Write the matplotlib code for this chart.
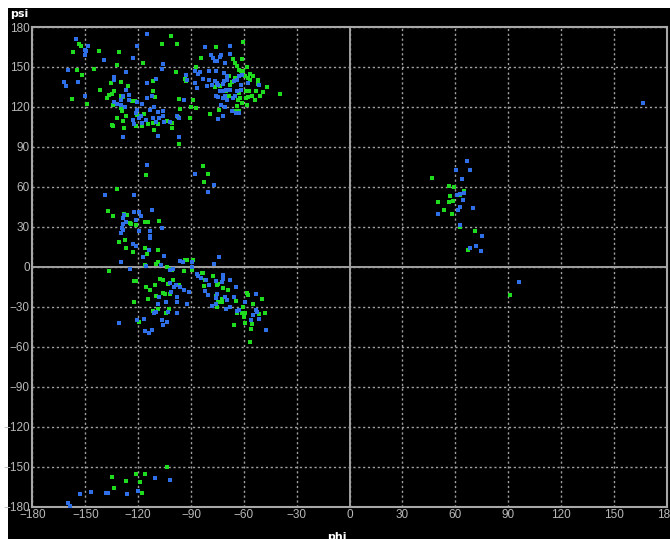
import matplotlib
matplotlib.use("Agg")
import matplotlib.pyplot as plt
from matplotlib import font_manager
from matplotlib.patches import Rectangle

# phi/psi dihedral angles, two sets
blue_phi = [
    # beta region
    -155.1, -148.5, -150.4, -149.8, -150.4, -139.5, -160, -162, -160.9, -154.3,
    -150.4, -133.9, -133.9, -126.8, -123, -120.8, -115, -106, -106.3, -109.7,
    -115, -112, -114.8, -127, -125, -128.6, -130, -133.9, -132, -130,
    -127.5, -125, -120.8, -118, -120.4, -121, -118.3, -119.4, -122.8, -122.2,
    -118, -115.7, -113, -110.8, -108.6, -106, -105.8, -108.2, -111.6, -109.7,
    -105.4, -102.2, -98, -96.6, -94, -92.6, -92, -96.6, -108.6, -128.6,
    # PPII region
    -81.8, -67.6, -67.8, -78.4, -77.7, -73.1, -73.5, -76.3, -75.4, -70.6,
    -87.7, -85, -85.8, -80, -75.9, -71.2, -69.7, -69.3, -71.2, -83.4,
    -79.5, -87.9, -86.8, -81.1, -78.2, -76.1, -75.4, -74.8, -71.6, -65.5,
    -64, -61.7, -57.7, -51.6, -73.5, -71.6, -70, -67.8, -64, -61.7,
    -75.9, -74.8, -72.1, -70.6, -69.3, -65.9, -64.9, -72.9, -70.6, -72.1,
    -74.4, -66.8, -64.5, -63, -63, -61.1,
    # alpha region
    -114.7, -87.7, -76.9, -80.1, -138.6, -122.3, -122.3, -119.4, -112, -128,
    -128.6, -127, -128.6, -121.5, -118.5, -119.6, -113.4, -106.7, -129.9, -128.6,
    -129, -113, -113, -122.9, -121.5, -113.7, -117.2, -115.3, -105.4, -129.5,
    -124.8, -107, -100.4, -102, -96.3, -94.7, -89.6, -89.6, -85.8, -84.5,
    -86.8, -74.2, -76.9, -71.6, -72, -72.5, -75.7, -81.4, -79.5, -68.1,
    -96.3, -94, -91, -92.1, -99.5, -98.5, -102, -101.4, -97.8, -97.8,
    -104.2, -108.4, -103.3, -110.9, -110.1, -108.6, -97.8, -106.5, -103.5, -105.8,
    -116.6, -120.6, -131, -116.2, -113.9, -112.4, -78.2, -75.7, -75.7, -70.6,
    -69.7, -68.1, -64.7, -65.5, -63, -64, -59.2, -53.1, -52.9, -55.8,
    -51.6, -47.4, -54.8, -52.5, -75.3, -70, -82, -80.1,
    # left-handed region and outliers
    66.7, 68.2, 60.6, 63.8, 62.9, 64.9, 61, 64.6, 62.5, 61.5,
    69.9, 50.1, 62.9, 75.2, 72, 68.6, 74.6, 96.1, 166.4,
    # bottom
    -160.1, -158.9, -153.3, -146.7, -138.2, -137, -126.5, -120, -110.2, -101.7,
]
blue_psi = [
    171, 166, 163, 162, 159, 155, 147.5, 139, 135.5, 139,
    128.5, 142.5, 140.5, 146, 157, 165.5, 175, 152.5, 148.5, 141,
    138, 128, 127, 132.5, 129, 128, 125.5, 124, 122, 121.5,
    120, 125, 124, 122, 118, 115.5, 113.5, 111.5, 110, 107,
    108, 110, 118, 120, 116, 117, 113.5, 111.5, 111.5, 109,
    108.7, 108.7, 113, 112, 125, 143.8, 140, 97.8, 98, 97.5,
    164.8, 165.5, 160, 158.8, 156.8, 159.3, 157.3, 154.8, 154.3, 153.3,
    147.3, 146, 144.8, 147.3, 147.3, 145.3, 143, 140.5, 139.3, 140.8,
    140.5, 138, 134.3, 135.5, 136.3, 139.8, 138, 136.3, 137.3, 139.3,
    140, 136.8, 138, 136.3, 132.3, 131.8, 133, 133, 131.8, 133,
    128.5, 127.5, 126.8, 128, 125.5, 126.8, 128, 121.3, 120.3, 113.5,
    111, 117.3, 115.8, 115.3, 143, 143.8,
    76.3, 70, 61.5, 56, 53.8, 53.8, 41.3, 41.3, 43, 38.8,
    36.3, 33.8, 32.5, 35, 38.3, 26.8, 27, 29.5, 25.5, 27.5,
    28.8, 23, 21.3, 16.8, 15.8, 13, 7.5, 0.5, 8.5, 3.8,
    -1.8, 1.3, -1.8, -2.5, 4.5, 3.8, 3.8, 0, -7, -8,
    -5, 7.5, 2.5, -6.3, -8.8, -11.3, -10.5, -10, -13.5, -9.5,
    -15, -17, -18.8, -27.5, -15, -13.8, -12, -18.8, -22.5, -26.3,
    -26.3, -22.5, -33.8, -34.5, -33.8, -27.5, -35, -40, -41.3, -43.8,
    -39.5, -40, -41.8, -48.3, -49.3, -47.5, -29.3, -27.5, -23, -22.5,
    -25, -30, -15, -22.5, -32.5, -33, -26.3, -20, -32.5, -40,
    -38.8, -47.5, -35.8, -33.8, -20, -32, -18, -21.3,
    79.3, 73, 73, 66.3, 55, 55.5, 53.8, 50.5, 45, 43,
    43.8, 40, 31.3, 23, 15.5, 13.8, 11.8, -11.5, 123.3,
    -176.9, -179.2, -170.5, -169, -169.7, -169.7, -170.5, -168, -158.7, -160.3,
]

green_phi = [
    # beta region
    -153.8, -152.6, -157, -142.3, -131, -154.5, -145, -151.7, -157.7, -149,
    -141.4, -135.7, -132, -130, -126, -134, -134.8, -137.5, -136.7, -130,
    -128.8, -123.6, -121.9, -134.4, -129.2, -129.8, -132, -127, -128.8, -135,
    -134.4, -128, -121, -117.6, -120.8, -116.6, -114.4, -110.8, -111.4, -108.8,
    -103.5, -101, -111.8, -111.3, -110.2, -117, -106.3, -101.4, -98, -98.4,
    -93.2, -92.8, -97, -96.2, -97.3, -90.6, -97, -101, -90.2,
    # PPII region
    -75.7, -60.5, -84.5, -65.9, -61.1, -64.8, -64, -63, -61.7, -58.3,
    -60.2, -56.4, -54.9, -52.2, -52.2, -56.4, -57.7, -59.6, -61.1, -46.9,
    -49.2, -51.1, -53, -53.5, -58.7, -56.8, -58.7, -57.4, -55.4, -63,
    -62.4, -63.4, -61.1, -58.3, -64, -62.8, -39.6, -67.8, -66.8, -64.9,
    -70, -68.7, -87.2, -88.7, -87.2, -79.2, -74, -64.5, -76.3, -73.8,
    -68.7,
    # alpha region
    -83, -80.1, -82.4, -115.3, -131.8, -137.1, -134.3, -128, -126.3, -124.8,
    -123.8, -121.5, -116.2, -114.3, -108.2, -127.2, -130.8, -126.7, -122.9, -116.2,
    -108.6, -114.9, -116.2, -110.1, -108.6, -103.5, -102, -101, -93.8, -93.4,
    -92.1, -89, -89.6, -136.5, -122.3, -121, -107.7, -106.1, -100.4, -102.9,
    -115.3, -113.4, -110.5, -104.8, -102, -106.1, -96.6, -114.3, -109.6, -122.3,
    -111.5, -108.6, -102.5, -104.2, -119.4, -83.9, -83, -82, -77.3, -75.3,
    -74.4, -82.6, -71.6, -68.8, -75.7, -72.5, -69.7, -74.4, -72.5, -75.3,
    -64.5, -64, -60.2, -58.3, -57.9, -61.1, -59.2, -59.8, -55, -51.6,
    -49.7, -47.8, -59.2, -55.4, -55.8, -65.8, -56.3,
    # left-handed region and outliers
    46.7, 56.6, 59.6, 64.9, 56.8, 58.5, 56.4, 50.3, 53.4, 58.3,
    62.9, 71.4, 67, 91.4, 62.5,
    # bottom
    -103.6, -134.8, -127, -133.6, -137, -121.2, -116.1, -119, -117.8,
]
green_psi = [
    167, 166, 161, 161.8, 161, 147.7, 148.5, 144, 126, 122.5,
    132.5, 138, 151.7, 138.7, 136, 131.7, 130, 126.5, 129, 128.5,
    127.7, 124.8, 124.3, 121.8, 116.8, 119.3, 111.8, 113, 109.3, 106.8,
    105.5, 104.3, 106, 105.5, 113.8, 114.8, 107.3, 102.5, 108, 107.5,
    109.8, 104.3, 139.3, 132.3, 127.5, 153.3, 167.3, 173, 167.3, 146.5,
    141, 139.8, 126.3, 118.5, 112.3, 111.8, 92, 108, 119.8,
    164.8, 168.5, 156.8, 156, 156.3, 153, 151, 148, 146.8, 149.8,
    146.8, 145, 143.5, 140.5, 137.3, 140, 141.8, 143, 144.3, 135,
    131, 128.5, 132.3, 125.5, 131.8, 131.8, 126.8, 127.5, 128.5, 130.8,
    126.8, 125.5, 123, 121.8, 120.5, 116.8, 129.8, 136.8, 138.8, 141.8,
    131.8, 128, 149.8, 125.5, 119.3, 114.8, 118, 116.8, 134.8, 135.5,
    143.5,
    75.5, 70, 63.8, 69.3, 58.3, 42, 38.3, 39.3, 39, 33,
    32.5, 31.3, 33.8, 33.8, 34.5, 20, 18.8, 14.5, 10.8, 13.8,
    12.5, 9.3, 1.3, 2, 3.3, 0, -1.8, -2.5, -3.3, 5,
    5.5, 5, -2.5, -3, -10.8, -10.8, -8.8, -10, -9.5, -12.5,
    -15, -17, -13.8, -20, -20.5, -19.5, -13.8, -23.8, -21.8, -26.3,
    -33.3, -32, -31.8, -35, -41.3, -4.5, -4.5, -10, -7, -13.8,
    -12.5, -14.5, -15.5, -17, -22, -23.8, -24.5, -26.3, -26.3, -30,
    -25.5, -35, -30, -19.5, -20.8, -35, -34.5, -37.5, -27.5, -35.5,
    -23.8, -34.5, -41.8, -43, -47, -43.8, -56.3,
    67, 60.5, 60, 57, 53, 49.3, 48.5, 48.5, 43, 39.5,
    30, 27, 12.5, -20.8, 54.3,
    -150, -157.7, -161, -165.6, -169.7, -155.4, -155.4, -161.8, -169.5,
]

ticks = list(range(-180, 181, 30))

# narrow font for tick labels if there is one
names = {f.name for f in font_manager.fontManager.ttflist}
tick_font = "Liberation Sans Narrow" if "Liberation Sans Narrow" in names else "Liberation Sans"

fig = plt.figure(figsize=(6.7, 5.39), dpi=100, facecolor="black")
# white strips along top and left edge
fig.patches.append(Rectangle((0, 1 - 8 / 539), 1, 8 / 539, transform=fig.transFigure,
                             facecolor="white", edgecolor="none", zorder=-1))
fig.patches.append(Rectangle((0, 0), 8 / 670, 1, transform=fig.transFigure,
                             facecolor="white", edgecolor="none", zorder=-1))

ax = fig.add_axes([0.0485, 0.0599, 0.9463, 0.89])
ax.set_facecolor("black")

ax.scatter(green_phi, green_psi, s=6, marker="s", color="#1fdc1f", linewidths=0, zorder=3)
ax.scatter(blue_phi, blue_psi, s=6, marker="s", color="#2f6fe8", linewidths=0, zorder=3)

ax.set_xlim(-180, 180)
ax.set_ylim(-180, 180)
ax.set_xticks(ticks)
ax.set_yticks(ticks)
ax.grid(True, color="#a0a0a0", linestyle=(0, (1.6, 1.9)), linewidth=1.0)
ax.axhline(0, color="#a0a0a0", linewidth=1.4, zorder=2)
ax.axvline(0, color="#a0a0a0", linewidth=1.4, zorder=2)
for sp in ax.spines.values():
    sp.set_color("#a8a8a8")
    sp.set_linewidth(1.5)

ax.tick_params(length=0, pad=2, labelsize=8.5, colors="#b8b8b8")
for lab in ax.get_xticklabels() + ax.get_yticklabels():
    lab.set_fontfamily(tick_font)

fig.text(10 / 670, 1 - 14 / 539, "psi", color="white", fontsize=8,
         fontweight="bold", va="center", ha="left")
fig.text(337 / 670, 1 - 537 / 539, "phi", color="white", fontsize=8,
         fontweight="bold", va="center", ha="center")

fig.savefig("out.png", dpi=100, facecolor=fig.get_facecolor())
